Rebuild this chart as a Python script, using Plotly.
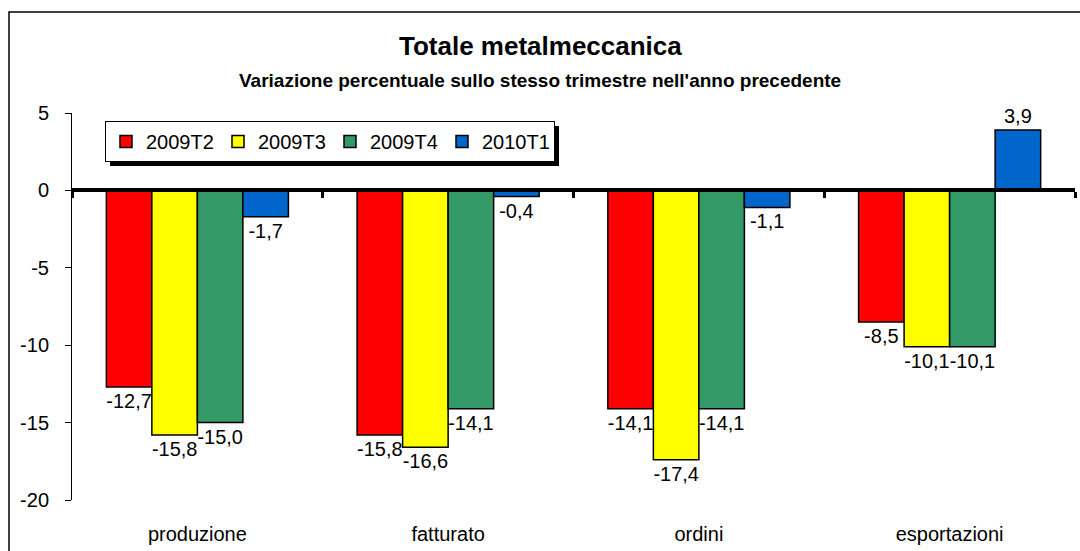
import plotly.graph_objects as go

categories = ["produzione", "fatturato", "ordini", "esportazioni"]
series_names = ["2009T2", "2009T3", "2009T4", "2010T1"]
v_2009T2 = [-12.7, -15.8, -14.1, -8.5]
v_2009T3 = [-15.8, -16.6, -17.4, -10.1]
v_2009T4 = [-15.0, -14.1, -14.1, -10.1]
v_2010T1 = [-1.7, -0.4, -1.1, 3.9]
series_values = [v_2009T2, v_2009T3, v_2009T4, v_2010T1]
colors = ["#FF0000", "#FFFF00", "#339966", "#0066CC"]
y_ticks = [5, 0, -5, -10, -15, -20]

W, H = 1080, 551
L, R, T, B = 72, 5, 113, 51
PW, PH = W - L - R, H - T - B
FONT = "Liberation Sans, Arial, sans-serif"


def px_x(p):
    return (p - L) / PW


def px_y(p):
    return (H - B - p) / PH


fig = go.Figure()
for name, vals, col in zip(series_names, series_values, colors):
    fig.add_trace(go.Bar(
        x=categories, y=vals, name=name,
        marker=dict(color=col, line=dict(color="black", width=1.5)),
        text=[f"{v:.1f}".replace(".", ",") for v in vals],
        textposition="outside", cliponaxis=False,
        textfont=dict(family=FONT, size=20, color="black"),
        hoverinfo="skip",
    ))

# dummy trace for the zero-crossing axis
fig.add_trace(go.Scatter(x=[-0.5, 3.5], y=[None, None], xaxis="x2",
                         showlegend=False, hoverinfo="skip", mode="lines"))

fig.update_layout(
    width=W, height=H,
    margin=dict(l=L, r=R, t=T, b=B),
    paper_bgcolor="white", plot_bgcolor="white",
    barmode="group", bargap=0.274, bargroupgap=0,
    font=dict(family=FONT, size=20, color="black"),
    showlegend=True,
    legend=dict(
        orientation="h", x=px_x(105), y=px_y(121), xanchor="left", yanchor="top",
        bgcolor="white", bordercolor="black", borderwidth=1,
        font=dict(family=FONT, size=20, color="black"),
        entrywidth=67, entrywidthmode="pixels",
        traceorder="normal",
    ),
    xaxis=dict(
        type="category", range=[-0.5, 3.5],
        showline=False, showgrid=False, zeroline=False,
        ticks="", ticklabelstandoff=20,
        tickfont=dict(family=FONT, size=20, color="black"),
    ),
    xaxis2=dict(
        overlaying="x", anchor="free", position=px_y(190),
        range=[-0.5, 3.5], showgrid=False, zeroline=False,
        showline=True, linecolor="black", linewidth=4,
        ticks="outside", tickvals=[-0.5, 0.5, 1.5, 2.5, 3.5],
        ticklen=6, tickwidth=3, tickcolor="black",
        showticklabels=False,
    ),
    yaxis=dict(
        range=[-20, 5], tickvals=y_ticks, ticktext=[str(v) for v in y_ticks],
        showgrid=False, zeroline=False,
        showline=True, linecolor="black", linewidth=1,
        ticks="outside", ticklen=6, tickcolor="black", tickwidth=1,
        ticklabelstandoff=12,
        tickfont=dict(family=FONT, size=20, color="black"),
    ),
    annotations=[
        dict(text="<b>Totale metalmeccanica</b>", x=px_x(540), y=px_y(46),
             xref="paper", yref="paper", xanchor="center", yanchor="middle",
             showarrow=False, font=dict(family=FONT, size=26, color="black")),
        dict(text="<b>Variazione percentuale sullo stesso trimestre nell'anno precedente</b>",
             x=px_x(540), y=px_y(80),
             xref="paper", yref="paper", xanchor="center", yanchor="middle",
             showarrow=False, font=dict(family=FONT, size=19, color="black")),
    ],
    shapes=[
        dict(type="rect", xref="paper", yref="paper",
             x0=px_x(9), x1=px_x(1090), y0=px_y(560), y1=px_y(12),
             line=dict(color="black", width=1.5), fillcolor="rgba(0,0,0,0)",
             layer="below"),
        dict(type="rect", xref="paper", yref="paper",
             x0=px_x(110), x1=px_x(559), y0=px_y(166), y1=px_y(126),
             line=dict(width=0), fillcolor="black", layer="above"),
    ],
)

fig.write_html(
    "out.html",
    config={"displayModeBar": False},
    post_script="document.body.style.margin='0';document.body.style.overflow='hidden';",
)
